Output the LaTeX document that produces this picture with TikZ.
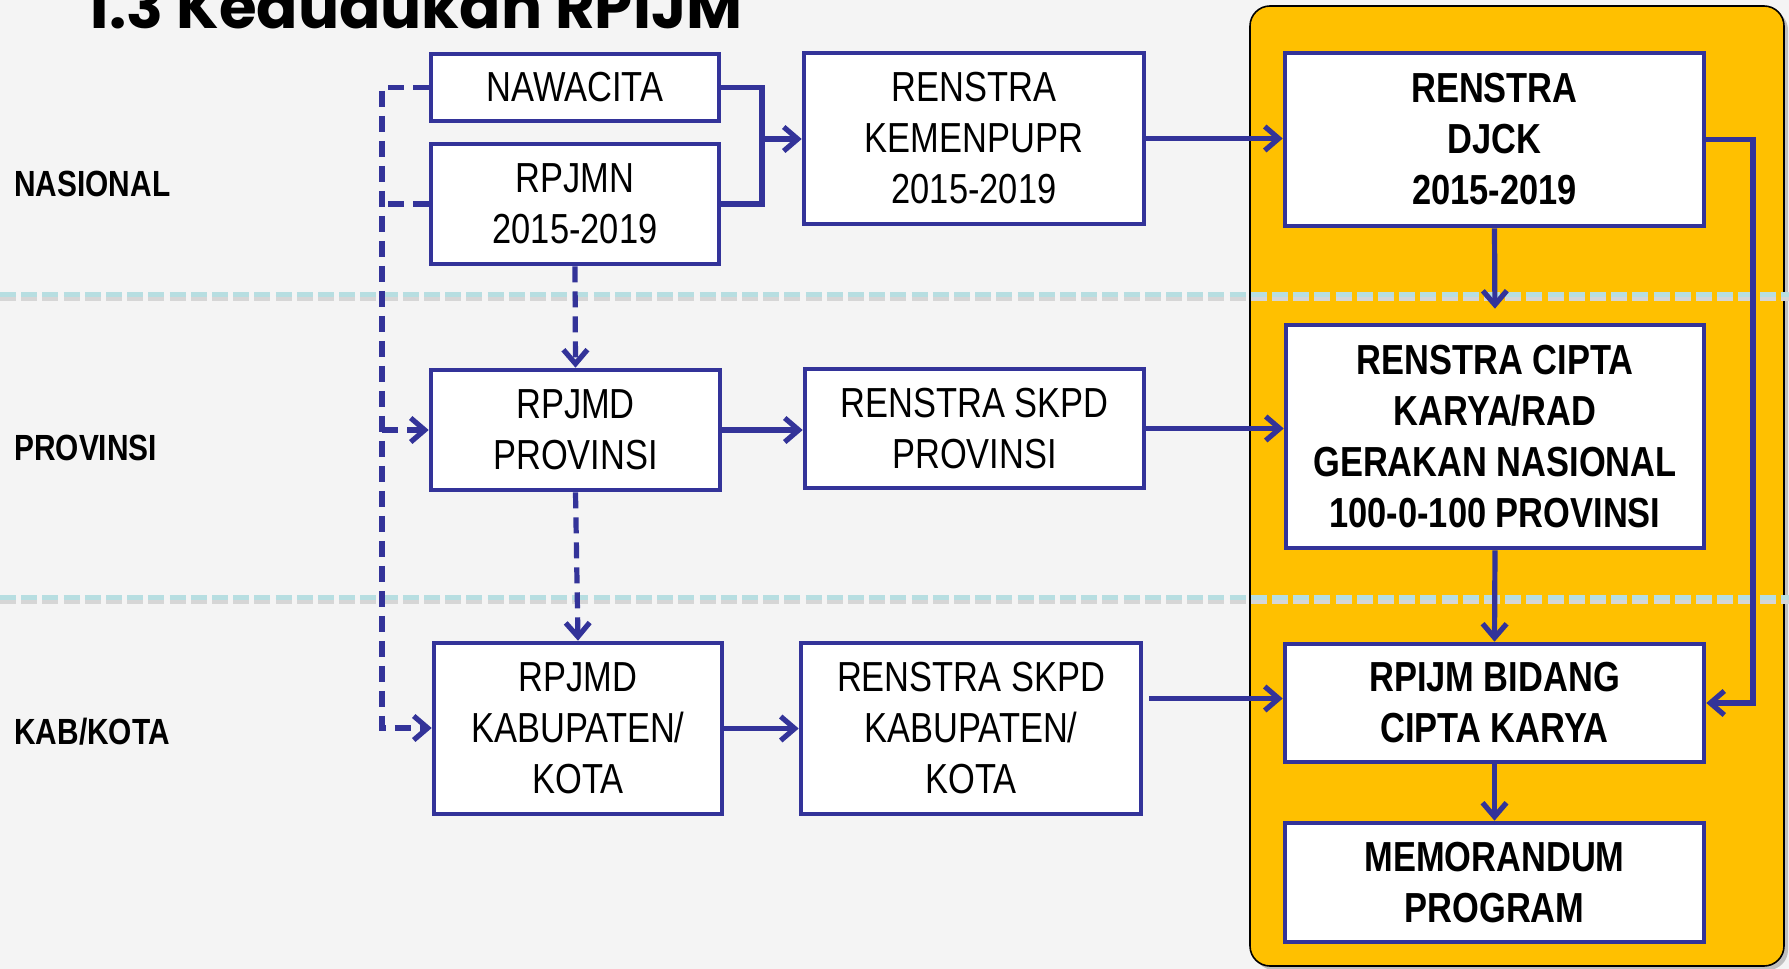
\documentclass[tikz,border=0pt]{standalone}
\usepackage{fontspec}
\usepackage{graphicx}
\usetikzlibrary{arrows.meta,calc}
\newfontfamily\narrowfont[FakeStretch=0.82]{Liberation Sans}
\newfontfamily\titlefont{Poppins}
\definecolor{navy}{RGB}{51,51,153}
\definecolor{gold}{RGB}{255,192,0}
\definecolor{bgc}{RGB}{244,244,244}
\definecolor{sepc}{RGB}{183,222,225}
\begin{document}
\begin{tikzpicture}[x=0.5pt,y=-0.5pt,
  box/.style={draw=navy, line width=2.3pt, fill=white, align=center, inner sep=0pt,
    font=\narrowfont\fontsize{21}{25.5}\selectfont},
  bbox/.style={box, font=\narrowfont\bfseries\fontsize{21}{25.5}\selectfont},
  rowlabel/.style={anchor=base west, inner sep=0pt, font=\narrowfont\bfseries\fontsize{18.2}{22}\selectfont},
  conn/.style={draw=navy, line width=2.6pt, -{Straight Barb[length=7pt,width=12pt]}},
  plain/.style={draw=navy, line width=2.6pt},
  dconn/.style={conn, dash pattern=on 8pt off 4.5pt},
  dplain/.style={plain, dash pattern=on 8pt off 4.5pt},
  sepline/.style={draw=sepc, line width=2.5pt, dash pattern=on 8pt off 2.6pt},
  sepshadow/.style={draw=black!16, line width=2.8pt, dash pattern=on 8pt off 2.6pt}
]
\useasboundingbox (0,0) rectangle (1789,969);
\fill[bgc] (0,0) rectangle (1789,969);

% title
\node[anchor=base west, inner sep=0pt] (title) at (86,28)
  {\resizebox{328pt}{!}{\titlefont\bfseries 1.3 Kedudukan RPIJM}};

% yellow panel
\fill[black!25, rounded corners=10pt] (1254,10) rectangle (1788,970);
\draw[black, line width=0.8pt, fill=gold, rounded corners=10pt] (1250,6) rectangle (1784,966);

% separators
\draw[sepshadow] (0,298) -- (1789,298);
\draw[sepline] (0,294) -- (1789,294);
\draw[sepshadow] (0,601) -- (1789,601);
\draw[sepline] (0,597) -- (1789,597);

% row labels
\node[rowlabel] (lnas) at (14,196) {NASIONAL};
\node[rowlabel] (lprov) at (14,460) {PROVINSI};
\node[rowlabel] (lkab) at (14,744) {KAB/KOTA};

% boxes
\node[box, minimum width=144pt, minimum height=33.5pt] (nawa) at (575,87.5) {NAWACITA};
\node[box, minimum width=144pt, minimum height=60pt] (rpjmn) at (575,204) {RPJMN\\2015-2019};
\node[box, minimum width=170pt, minimum height=85.5pt] (kemen) at (974,138.5) {RENSTRA\\KEMENPUPR\\2015-2019};
\node[bbox, minimum width=209.5pt, minimum height=86.5pt] (djck) at (1494.5,139.5) {RENSTRA\\DJCK\\2015-2019};
\node[box, minimum width=144.5pt, minimum height=60pt] (rpjmdp) at (575.5,430) {RPJMD\\PROVINSI};
\node[box, minimum width=169.5pt, minimum height=59.5pt] (skpdp) at (974.5,428.5) {RENSTRA SKPD\\PROVINSI};
\node[bbox, minimum width=209pt, minimum height=111.5pt] (cipta) at (1495,436.5) {RENSTRA CIPTA\\KARYA/RAD\\GERAKAN NASIONAL\\100-0-100 PROVINSI};
\node[box, minimum width=144pt, minimum height=85.5pt] (rpjmdk) at (578,728.5) {RPJMD\\KABUPATEN/\\KOTA};
\node[box, minimum width=170pt, minimum height=85.5pt] (skpdk) at (971,728.5) {RENSTRA SKPD\\KABUPATEN/\\KOTA};
\node[bbox, minimum width=209.5pt, minimum height=59pt] (rpijm) at (1494.5,703) {RPIJM BIDANG\\CIPTA KARYA};
\node[bbox, minimum width=209.5pt, minimum height=59.5pt] (memo) at (1494.5,882.5) {MEMORANDUM\\PROGRAM};

% helper coordinates
\coordinate (brk) at (762,139);
\coordinate (lcorner) at (382,728);
\coordinate (rcorner) at (1753,400);

% national connectors
\draw[plain] (nawa.east) -| (brk) |- (rpjmn.east);
\draw[conn] (brk) -- (kemen.west |- brk);
\draw[conn] (kemen.east) -- (djck.west |- kemen.east);
\draw[conn, shorten >=7pt] (djck.south) -- (cipta.north);
\draw[conn] (djck.east) -| (rcorner) |- (rpijm.east);

% left dashed spine
\draw[dconn] (nawa.west) -| (lcorner) -- (rpjmdk.west |- lcorner);
\draw[dplain] (rpjmn.west) -- (rpjmn.west -| lcorner);
\draw[dconn] (rpjmdp.west -| lcorner) -- (rpjmdp.west);

% vertical dashed
\draw[dconn] (rpjmn.south) -- (rpjmdp.north);
\draw[dconn] (rpjmdp.south) -- (rpjmdk.north);

% provincial / kab
\draw[conn] (rpjmdp.east) -- (skpdp.west |- rpjmdp.east);
\draw[conn] (skpdp.east) -- (cipta.west |- skpdp.east);
\draw[conn] (rpjmdk.east) -- (skpdk.west |- rpjmdk.east);
\coordinate (kabout) at ($(skpdk.east)+(6,-30)$);
\draw[conn] (kabout) -- (rpijm.west |- kabout);

% panel chain
\draw[conn] (cipta.south) -- (rpijm.north);
\draw[conn] (rpijm.south) -- (memo.north);
\end{tikzpicture}
\end{document}
